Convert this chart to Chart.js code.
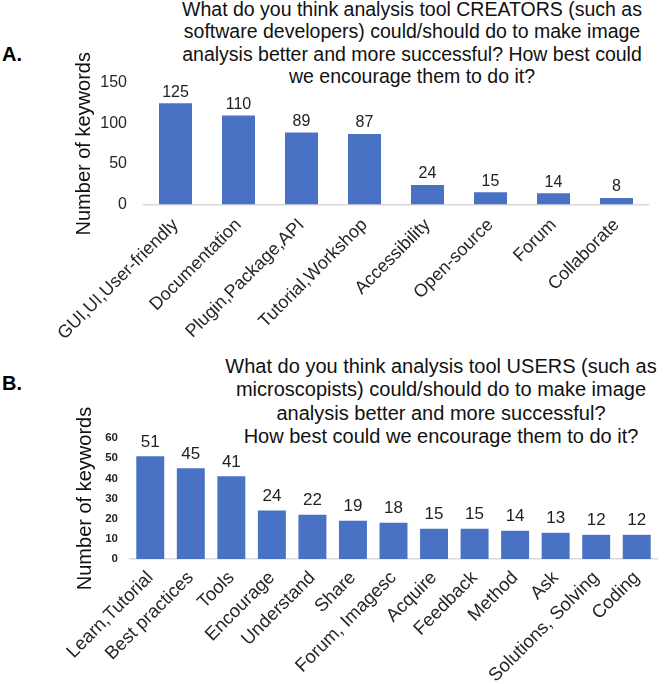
<!DOCTYPE html>
<html><head><meta charset="utf-8">
<script src="https://cdn.jsdelivr.net/npm/chart.js@4.4.1/dist/chart.umd.min.js"></script>
<style>
body{margin:0;width:665px;height:684px;position:relative;background:#fff;overflow:hidden;font-family:"Liberation Sans",Arial,sans-serif;}
canvas{position:absolute;left:0;}
.t{position:absolute;text-align:center;color:#111;white-space:nowrap;}
.lab{position:absolute;font-weight:bold;font-size:20px;color:#000;line-height:23px;}
</style></head><body>
<div class="lab" style="left:2px;top:43px">A.</div>
<div class="t" style="left:162px;width:500px;top:-2px;font-size:19.5px;line-height:22.3px">What do you think analysis tool CREATORS (such as<br>software developers) could/should do to make image<br>analysis better and more successful? How best could<br>we encourage them to do it?</div>
<div class="lab" style="left:2px;top:372px">B.</div>
<div class="t" style="left:201px;width:480px;top:355px;font-size:20px;line-height:23.3px">What do you think analysis tool USERS (such as<br>microscopists) could/should do to make image<br>analysis better and more successful?<br>How best could we encourage them to do it?</div>
<canvas id="cA" width="665" height="370" style="top:0"></canvas>
<canvas id="cB" width="665" height="354" style="top:330px"></canvas>
<script>
const creatorCategories = ["GUI,UI,User-friendly","Documentation","Plugin,Package,API","Tutorial,Workshop","Accessibility","Open-source","Forum","Collaborate"];
const creatorValues = [125,110,89,87,24,15,14,8];
const creatorTicks = [0,50,100,150];

const userCategories = ["Learn,Tutorial","Best practices","Tools","Encourage","Understand","Share","Forum, Imagesc","Acquire","Feedback","Method","Ask","Solutions, Solving","Coding"];
const userValues = [51,45,41,24,22,19,18,15,15,14,13,12,12];
const userTicks = [0,10,20,30,40,50,60];

const FONT = "'Liberation Sans', Arial, sans-serif";
const BAR = '#4A72C4';

const valueLabels = {
  id: 'valueLabels',
  afterDatasetsDraw(chart, args, opts) {
    const ctx = chart.ctx;
    const meta = chart.getDatasetMeta(0);
    const data = chart.data.datasets[0].data;
    ctx.save();
    ctx.font = opts.size + 'px ' + FONT;
    ctx.fillStyle = '#222';
    ctx.textAlign = 'center';
    ctx.textBaseline = 'middle';
    meta.data.forEach((bar, i) => {
      ctx.fillText(String(data[i]), bar.x, bar.y - opts.offset);
    });
    ctx.restore();
  }
};

function makeChart(id, cats, vals, ticks, cfg) {
  return new Chart(document.getElementById(id), {
    type: 'bar',
    data: { labels: cats, datasets: [{ data: vals, backgroundColor: BAR, borderWidth: 0,
      categoryPercentage: 1, barPercentage: cfg.barPct }] },
    options: {
      responsive: false, animation: false,
      layout: { padding: { top: cfg.padTop, right: cfg.padRight, left: 0, bottom: 0 } },
      plugins: { legend: { display: false }, tooltip: { enabled: false },
        valueLabels: { size: cfg.valSize, offset: cfg.valOffset } },
      scales: {
        x: {
          grid: { display: false, drawTicks: false },
          border: { display: true, color: '#d9d9d9', width: 1.5 },
          ticks: { autoSkip: false, maxRotation: 45, minRotation: 45, padding: cfg.xPad,
            color: '#262626', font: { family: FONT, size: cfg.xSize } },
          afterFit: s => { s.height = cfg.xHeight; }
        },
        y: {
          min: 0, max: ticks[ticks.length - 1],
          afterBuildTicks: s => { s.ticks = ticks.map(v => ({ value: v })); },
          grid: { display: false, drawTicks: false },
          border: { display: false },
          ticks: { padding: cfg.yPad, color: '#262626',
            font: { family: FONT, size: cfg.ySize, weight: cfg.yWeight } },
          title: { display: true, text: 'Number of keywords', color: '#111',
            font: { family: FONT, size: 20 }, padding: { top: cfg.titlePad, bottom: 0 } },
          afterFit: s => { s.width = cfg.yWidth; }
        }
      }
    },
    plugins: [valueLabels]
  });
}

makeChart('cA', creatorCategories, creatorValues, creatorTicks, {
  barPct: 0.524, padTop: 83, padRight: 17, xHeight: 165.5, yWidth: 144,
  xPad: 10, xSize: 18, yPad: 17, ySize: 16, yWeight: 'normal', titlePad: 72,
  valSize: 16, valOffset: 11
});
makeChart('cB', userCategories, userValues, userTicks, {
  barPct: 0.69, padTop: 108, padRight: 8, xHeight: 125, yWidth: 130,
  xPad: 8, xSize: 18.5, yPad: 12, ySize: 11.5, yWeight: 'bold', titlePad: 73,
  valSize: 17, valOffset: 14
});
</script>
</body></html>
